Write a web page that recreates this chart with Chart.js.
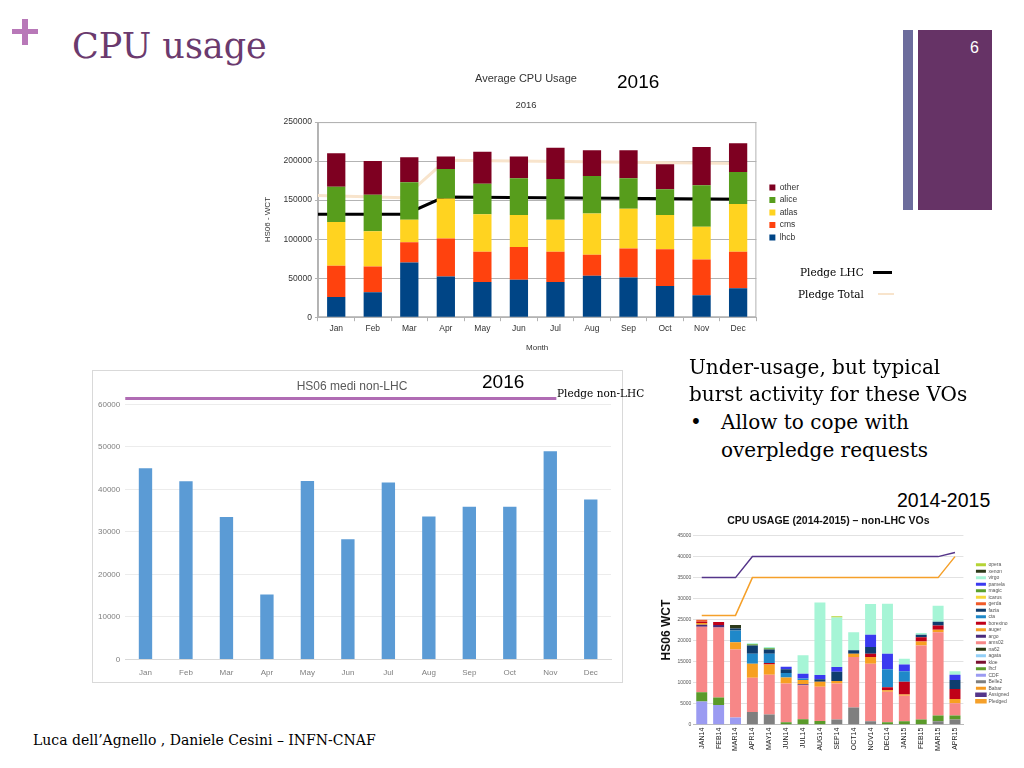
<!DOCTYPE html>
<html>
<head>
<meta charset="utf-8">
<script src="https://cdn.jsdelivr.net/npm/chart.js@4.4.1/dist/chart.umd.min.js"></script>
<style>
body { margin:0; background:#fff; width:1024px; height:768px; overflow:hidden; position:relative; font-family:"Liberation Sans", Arial, sans-serif; }
.abs { position:absolute; white-space:nowrap; }
.serif { font-family:"DejaVu Serif", serif; }
canvas { position:absolute; }
</style>
</head>
<body>

<!-- slide decoration -->
<div class="abs" style="left:12px;top:29px;width:26px;height:5px;background:#b878b8"></div>
<div class="abs" style="left:22px;top:19px;width:6px;height:26px;background:#b878b8"></div>
<div class="abs serif" style="left:72px;top:26px;font-size:35px;line-height:40px;color:#6b3a6e">CPU usage</div>
<div class="abs" style="left:903px;top:30px;width:10px;height:180px;background:#6c6c9c"></div>
<div class="abs" style="left:918px;top:30px;width:74px;height:180px;background:#663366"></div>
<div class="abs" style="left:970px;top:38px;font-size:16px;line-height:20px;color:#fff">6</div>

<!-- chart 1 -->
<canvas id="avgChart" width="566" height="289" style="left:243px;top:68px"></canvas>
<div class="abs" style="left:617px;top:71px;font-size:19px;line-height:22px">2016</div>
<div class="abs serif" style="left:800px;top:265px;font-size:10.5px;line-height:14px">Pledge LHC</div>
<div class="abs" style="left:873px;top:271px;width:19px;height:3px;background:#000"></div>
<div class="abs serif" style="left:798px;top:287px;font-size:10.5px;line-height:14px">Pledge Total</div>
<div class="abs" style="left:878px;top:293px;width:16px;height:2px;background:#f8e4cc"></div>

<!-- chart 2 -->
<div class="abs" style="left:92px;top:370px;width:529px;height:311px;border:1px solid #d9d9d9"></div>
<canvas id="nonLhcChart" width="528" height="318" style="left:93px;top:371px"></canvas>
<div class="abs" style="left:482px;top:371px;font-size:19px;line-height:22px">2016</div>
<div class="abs serif" style="left:557px;top:386px;font-size:10.5px;line-height:14px">Pledge non-LHC</div>

<!-- text -->
<div class="abs serif" style="left:689px;top:354px;font-size:20px;line-height:27px">Under-usage, but typical<br>burst activity for these VOs</div>
<div class="abs serif" style="left:690px;top:408px;font-size:20px;line-height:28px">•</div>
<div class="abs serif" style="left:721px;top:408px;font-size:20px;line-height:28px">Allow to cope with<br>overpledge requests</div>
<div class="abs" style="left:897px;top:489px;font-size:19.5px;line-height:22px">2014-2015</div>

<!-- chart 3 -->
<canvas id="voChart" width="366" height="242" style="left:655px;top:512px"></canvas>

<div class="abs serif" style="left:33px;top:732px;font-size:14px;line-height:17px">Luca dell’Agnello , Daniele Cesini – INFN-CNAF</div>

<script>
Chart.defaults.animation = false;
Chart.defaults.font.family = '"Liberation Sans", Arial, sans-serif';

// ---- chart 1: Average CPU Usage 2016
var months = ['Jan', 'Feb', 'Mar', 'Apr', 'May', 'Jun', 'Jul', 'Aug', 'Sep', 'Oct', 'Nov', 'Dec'];
var lhcb  = [26000, 32000, 70000, 52000, 45000, 48000, 45000, 53000, 51000, 40000, 28000, 37000];
var cms   = [40000, 33000, 26000, 49000, 39000, 42000, 39000, 27000, 37000, 47000, 46000, 47000];
var atlas = [56000, 45000, 29000, 51000, 48000, 41000, 41000, 53000, 51000, 44000, 42000, 61000];
var alice = [45000, 47000, 48000, 38000, 39000, 47000, 52000, 48000, 39000, 33000, 53000, 41000];
var other = [43000, 43000, 32000, 16000, 41000, 28000, 40000, 33000, 36000, 32000, 49000, 37000];
// pledge lines, x in months from the left edge of the plot
var pledgeLhcX   = [0, 2.4, 3.45, 11.7];
var pledgeLhcY   = [132000, 132000, 154000, 151000];
var pledgeTotX   = [0, 2.35, 3.5, 11.7];
var pledgeTotY   = [156000, 153000, 201000, 197000];

function pts(xs, ys) {
  return xs.map(function (x, i) { return { x: x, y: ys[i] }; });
}

var frame = {
  id: 'frame',
  beforeDatasetsDraw: function (chart) {
    var a = chart.chartArea, c = chart.ctx;
    c.save();
    c.strokeStyle = '#b3b3b3';
    c.lineWidth = 1;
    c.strokeRect(a.left + 0.5, a.top + 0.5, a.width - 1, a.height - 1);
    c.restore();
  }
};

// empty axis, only there to keep a gap (before the legend, or on the left)
function spacer(pos, w) {
  return {
    position: pos, display: true, weight: 10,
    grid: { display: false, drawTicks: false }, border: { display: false },
    ticks: { display: false },
    afterFit: function (s) { s.width = w; }
  };
}

new Chart(document.getElementById('avgChart'), {
  type: 'bar',
  data: {
    labels: months,
    datasets: [
      { label: 'lhcb', data: lhcb, backgroundColor: '#004586' },
      { label: 'cms', data: cms, backgroundColor: '#ff420e' },
      { label: 'atlas', data: atlas, backgroundColor: '#ffd320' },
      { label: 'alice', data: alice, backgroundColor: '#579d1c' },
      { label: 'other', data: other, backgroundColor: '#7e0021' },
      { type: 'line', label: 'Pledge Total', data: pts(pledgeTotX, pledgeTotY), xAxisID: 'x2', stack: 'pt',
        borderColor: '#f8e4cc', borderWidth: 3, pointRadius: 0, tension: 0 },
      { type: 'line', label: 'Pledge LHC', data: pts(pledgeLhcX, pledgeLhcY), xAxisID: 'x2', stack: 'pl',
        borderColor: '#000000', borderWidth: 3, pointRadius: 0, tension: 0 }
    ]
  },
  options: {
    responsive: false,
    layout: { padding: 0 },
    datasets: { bar: { grouped: false, barPercentage: 0.5, categoryPercentage: 1 } },
    plugins: {
      title: { display: true, text: 'Average CPU Usage', color: '#333', font: { size: 11, weight: 'normal' }, padding: { top: 4, bottom: 14 } },
      subtitle: { display: true, text: '2016', color: '#333', font: { size: 9.5 }, padding: { bottom: 11.5 } },
      legend: {
        position: 'right', reverse: true,
        labels: {
          boxWidth: 6, boxHeight: 6, padding: 4, color: '#333', font: { size: 8.5 },
          filter: function (item) { return item.text !== 'Pledge LHC' && item.text !== 'Pledge Total'; }
        }
      },
      tooltip: { enabled: false }
    },
    scales: {
      x: {
        stacked: true,
        grid: { display: true, drawOnChartArea: false, color: '#b3b3b3', tickLength: 4, offset: true },
        border: { color: '#b3b3b3' },
        ticks: { color: '#333', font: { size: 8.5 }, padding: 2 },
        title: { display: true, text: 'Month', color: '#333', font: { size: 8 }, padding: { top: 8 } }
      },
      x2: { type: 'linear', min: 0, max: 12, offset: false, display: false },
      y: {
        stacked: true, min: 0, max: 250000,
        ticks: { stepSize: 50000, color: '#333', font: { size: 8.5 }, padding: 3, format: { useGrouping: false } },
        grid: { color: '#b3b3b3', tickLength: 3 },
        border: { color: '#b3b3b3' },
        title: { display: true, text: 'HS06 - WCT', color: '#333', font: { size: 8 }, padding: { bottom: 8 } }
      },
      yl: spacer('left', 16),
      yr: spacer('right', 9)
    }
  },
  plugins: [frame]
});

// ---- chart 2: HS06 medi non-LHC 2016
var nonLhc = [45000, 41900, 33500, 15300, 42000, 28300, 41600, 33600, 35900, 35900, 49000, 37600];
var pledgeNonLhcX = [0, 10.65];
var pledgeNonLhcY = [61400, 61400];

new Chart(document.getElementById('nonLhcChart'), {
  type: 'bar',
  data: {
    labels: months,
    datasets: [
      { label: 'HS06 medi non-LHC', data: nonLhc, backgroundColor: '#5b9bd5', grouped: false, barPercentage: 0.33, categoryPercentage: 1 },
      { type: 'line', label: 'Pledge non-LHC', data: pts(pledgeNonLhcX, pledgeNonLhcY), xAxisID: 'x2',
        borderColor: '#b06cb4', borderWidth: 3, pointRadius: 0, clip: false }
    ]
  },
  options: {
    responsive: false,
    layout: { padding: { left: 0, right: 10, top: 0, bottom: 2 } },
    plugins: {
      title: { display: true, text: 'HS06 medi non-LHC', color: '#595959', font: { size: 12, weight: 'normal' }, padding: { top: 8, bottom: 11 } },
      legend: { display: false },
      tooltip: { enabled: false }
    },
    scales: {
      x: {
        grid: { display: false, drawTicks: false },
        border: { color: '#d9d9d9' },
        ticks: { color: '#7f7f7f', font: { size: 8 }, padding: 9 }
      },
      x2: { type: 'linear', min: 0, max: 12, offset: false, display: false },
      y: {
        min: 0, max: 60000,
        ticks: { stepSize: 10000, color: '#7f7f7f', font: { size: 8 }, padding: 5, format: { useGrouping: false } },
        grid: { color: '#ececec', drawTicks: false },
        border: { display: false }
      }
    }
  }
});

// ---- chart 3: CPU usage 2014-2015 non-LHC VOs
var voMonths = ['JAN14', 'FEB14', 'MAR14', 'APR14', 'MAY14', 'JUN14', 'JUL14', 'AUG14', 'SEP14', 'OCT14', 'NOV14', 'DEC14', 'JAN15', 'FEB15', 'MAR15', 'APR15'];
var babar    = [0, 0, 0, 0, 0, 0, 0, 0, 0, 0, 0, 0, 0, 0, 0, 0];
var belle2   = [0, 0, 0, 3000, 2400, 0, 0, 0, 1200, 4100, 800, 0, 0, 0, 800, 1200];
var cdf      = [5500, 4700, 1700, 0, 0, 0, 0, 0, 0, 0, 0, 0, 0, 0, 0, 0];
var lhcf     = [2200, 1750, 0, 0, 0, 600, 1300, 900, 0, 0, 0, 600, 800, 1200, 1400, 1000];
var kloe     = [0, 0, 0, 0, 0, 0, 0, 0, 0, 0, 0, 0, 0, 0, 0, 0];
var agata    = [0, 0, 0, 0, 0, 0, 0, 0, 0, 0, 0, 0, 0, 0, 0, 0];
var na62     = [0, 0, 0, 0, 0, 0, 0, 0, 0, 0, 0, 0, 0, 0, 0, 0];
var ams02    = [15600, 16700, 16200, 8150, 9500, 9200, 8100, 8100, 8600, 12000, 13700, 7250, 6100, 17650, 19800, 2900];
var argo     = [500, 600, 0, 0, 0, 0, 200, 0, 0, 0, 0, 0, 0, 0, 0, 0];
var auger    = [400, 0, 1700, 3350, 2400, 1400, 1000, 1200, 600, 800, 1600, 350, 300, 950, 600, 1000];
var borexino = [300, 700, 0, 0, 400, 0, 0, 0, 0, 0, 800, 700, 3000, 1000, 1000, 2400];
var cta      = [0, 0, 2800, 2400, 2200, 1100, 400, 0, 0, 0, 0, 4300, 2500, 0, 0, 0];
var fazia    = [0, 0, 500, 1950, 1000, 900, 0, 600, 2200, 800, 1600, 0, 0, 600, 900, 2100];
var gerda    = [500, 0, 0, 0, 0, 0, 0, 0, 0, 0, 0, 0, 0, 0, 0, 0];
var icarus   = [0, 0, 0, 0, 0, 0, 0, 0, 0, 0, 0, 0, 0, 0, 0, 0];
var magic    = [0, 0, 0, 300, 300, 0, 0, 0, 0, 0, 0, 0, 0, 0, 0, 0];
var pamela   = [0, 0, 0, 0, 0, 600, 1100, 1000, 1100, 0, 2900, 3700, 1600, 0, 0, 1300];
var virgo    = [0, 0, 0, 250, 300, 0, 4400, 17300, 11800, 4300, 7300, 11900, 1400, 400, 3800, 800];
var xenon    = [0, 0, 800, 0, 0, 0, 0, 0, 0, 0, 0, 0, 0, 0, 0, 0];
var opera    = [0, 0, 0, 0, 0, 0, 0, 0, 300, 0, 0, 0, 0, 0, 0, 0];
var assigned = [35000, 35000, 35000, 40000, 40000, 40000, 40000, 40000, 40000, 40000, 40000, 40000, 40000, 40000, 40000, 41000];
var pledged  = [26000, 26000, 26000, 35000, 35000, 35000, 35000, 35000, 35000, 35000, 35000, 35000, 35000, 35000, 35000, 40000];

// bottom of the stack first
var voSeries = [
  ['Babar', babar, '#f59a20'], ['Belle2', belle2, '#7f7f7f'], ['CDF', cdf, '#9b9bf2'],
  ['lhcf', lhcf, '#5a9a2a'], ['kloe', kloe, '#7a1030'], ['agata', agata, '#92cff7'],
  ['na62', na62, '#2b3a12'], ['ams02', ams02, '#f78787'], ['argo', argo, '#4a2a7a'],
  ['auger', auger, '#f7a021'], ['borexino', borexino, '#c00018'], ['cta', cta, '#1f88c9'],
  ['fazia', fazia, '#0f3d6e'], ['gerda', gerda, '#f05a28'], ['icarus', icarus, '#f5d93a'],
  ['magic', magic, '#5aa02c'], ['pamela', pamela, '#3a3af0'], ['virgo', virgo, '#a6f5d6'],
  ['xenon', xenon, '#2d3a1a'], ['opera', opera, '#b5d334']
];

var voSets = [
  { type: 'line', label: 'Pledged', data: pledged, stack: 'pledged', borderColor: '#f5a02a', backgroundColor: '#f5a02a',
    borderWidth: 1.5, pointRadius: 0, tension: 0 },
  { type: 'line', label: 'Assigned', data: assigned, stack: 'assigned', borderColor: '#55358a', backgroundColor: '#55358a',
    borderWidth: 1.5, pointRadius: 0, tension: 0 }
];
voSeries.forEach(function (s) {
  voSets.push({ label: s[0], data: s[1], backgroundColor: s[2], barPercentage: 0.65, categoryPercentage: 1 });
});

new Chart(document.getElementById('voChart'), {
  type: 'bar',
  data: { labels: voMonths, datasets: voSets },
  options: {
    responsive: false,
    layout: { padding: { left: 0, right: 2, top: 0, bottom: 0 } },
    plugins: {
      title: { display: true, fullSize: false, text: 'CPU USAGE (2014-2015) – non-LHC VOs', color: '#111', font: { size: 10.5, weight: 'bold' }, padding: { top: 3, bottom: 8 } },
      legend: {
        position: 'right', reverse: true,
        labels: { boxWidth: 10, boxHeight: 3, padding: 1.5, color: '#555', font: { size: 5 } }
      },
      tooltip: { enabled: false }
    },
    scales: {
      x: {
        stacked: true,
        grid: { display: false, drawTicks: false },
        border: { color: '#bbb' },
        ticks: { minRotation: 90, maxRotation: 90, color: '#222', font: { size: 7 }, padding: 3 }
      },
      y: {
        stacked: true, min: 0, max: 45000,
        ticks: { stepSize: 5000, color: '#555', font: { size: 5 }, padding: 2, format: { useGrouping: false } },
        grid: { color: '#e2e2e2', drawTicks: false },
        border: { display: false },
        title: { display: true, text: 'HS06 WCT', color: '#111', font: { size: 12, weight: 'bold' }, padding: { bottom: 2 } }
      },
      yr: spacer('right', 11)
    }
  }
});
</script>
</body>
</html>
